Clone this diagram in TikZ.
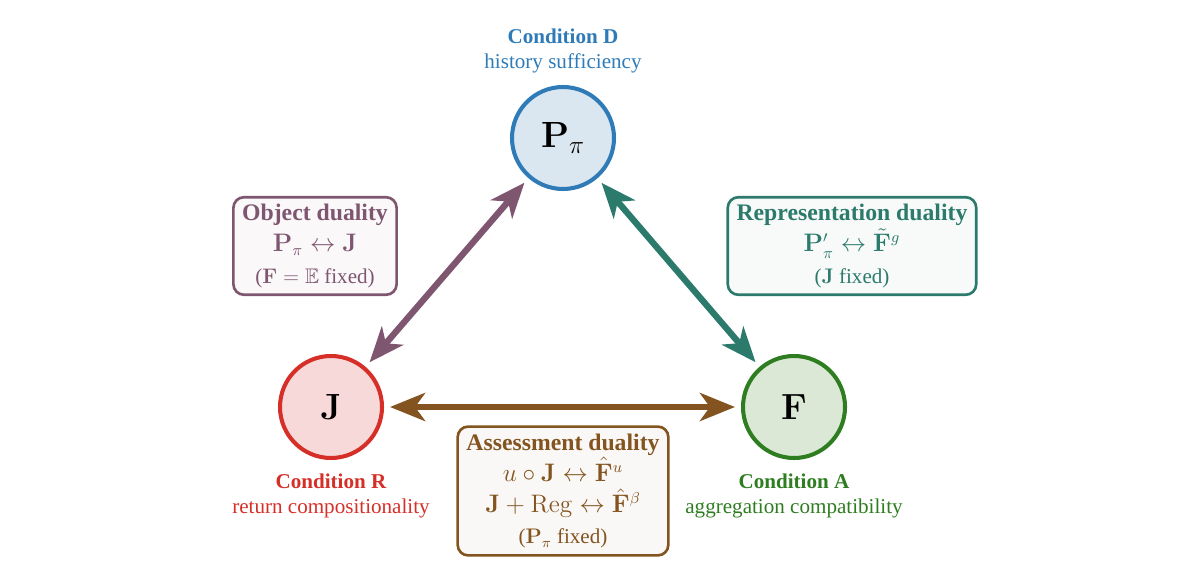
\documentclass[tikz,border=0pt]{standalone}
\usepackage{amsmath}
\usepackage{amssymb}
\usepackage[no-math]{fontspec}
\setmainfont{Liberation Serif}
\usetikzlibrary{arrows.meta,positioning}

% condition colours
\definecolor{condD}{HTML}{2E7BB8}
\definecolor{condDfill}{HTML}{DAE6F0}
\definecolor{condR}{HTML}{D62F28}
\definecolor{condRfill}{HTML}{F7D9DA}
\definecolor{condA}{HTML}{2E7D20}
\definecolor{condAfill}{HTML}{DCE8D6}
% duality colours
\definecolor{objdual}{HTML}{7E5670}
\definecolor{repdual}{HTML}{2B7A6B}
\definecolor{assdual}{HTML}{83541F}

\tikzset{
    cond/.style={circle, minimum size=2.04cm, inner sep=0pt, line width=2.3pt,
                 font=\fontsize{20}{24}\selectfont},
    condlabel/.style={align=center, font=\fontsize{12}{14}\selectfont},
    dualbox/.style={rounded corners=6pt, line width=1.5pt, align=center,
                    inner xsep=5pt, inner ysep=4pt,
                    font=\fontsize{13.5}{17.8}\selectfont},
    dualarrow/.style={{Stealth[length=0.7cm, width=0.56cm, inset=0.2cm]}-{Stealth[length=0.7cm, width=0.56cm, inset=0.2cm]},
                      line width=3.6pt, shorten <=0.12cm, shorten >=0.12cm},
}
\newcommand{\fixednote}[1]{{\fontsize{12}{14}\selectfont #1}}

\begin{document}
\begin{tikzpicture}
    \useasboundingbox (0,0) rectangle (24,11.66);

    % Conditions
    \node[cond, draw=condD, fill=condDfill] (P) at (11.26,8.9) {$\mathbf{P}_\pi$};
    \node[cond, draw=condR, fill=condRfill] (J) at (6.62,3.52) {$\mathbf{J}$};
    \node[cond, draw=condA, fill=condAfill] (F) at (15.88,3.52) {$\mathbf{F}$};

    \node[condlabel, text=condD, above=0.12cm of P] (Plabel) {\textbf{Condition D}\\history sufficiency};
    \node[condlabel, text=condR, below=0.16cm of J] (Jlabel) {\textbf{Condition R}\\return compositionality};
    \node[condlabel, text=condA, below=0.16cm of F] (Flabel) {\textbf{Condition A}\\aggregation compatibility};

    % Dualities
    \draw[dualarrow, objdual] (J) -- (P);
    \draw[dualarrow, repdual] (P) -- (F);
    \draw[dualarrow, assdual] (J) -- (F);

    \node[dualbox, draw=objdual, fill=objdual!4, text=objdual] (objbox) at (6.3,6.74)
        {\textbf{Object duality}\\ $\mathbf{P}_\pi \leftrightarrow \mathbf{J}$\\ \fixednote{($\mathbf{F}=\mathbb{E}$ fixed)}};
    \node[dualbox, draw=repdual, fill=repdual!4, text=repdual] (repbox) at (17.04,6.74)
        {\textbf{Representation duality}\\ $\mathbf{P}'_\pi \leftrightarrow \tilde{\mathbf{F}}^g$\\ \fixednote{($\mathbf{J}$ fixed)}};
    \node[dualbox, draw=assdual, fill=assdual!4, text=assdual] (assbox) at (11.26,1.84)
        {\textbf{Assessment duality}\\ $u\circ\mathbf{J} \leftrightarrow \hat{\mathbf{F}}^u$\\
         $\mathbf{J}+\mathrm{Reg} \leftrightarrow \hat{\mathbf{F}}^\beta$\\ \fixednote{($\mathbf{P}_\pi$ fixed)}};
\end{tikzpicture}
\end{document}
